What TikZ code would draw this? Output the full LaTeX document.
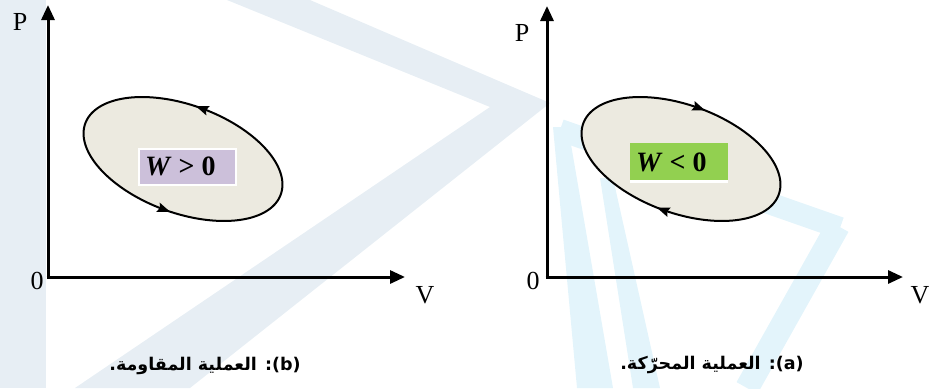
\documentclass[tikz,border=0pt]{standalone}
\usepackage{fontspec}
\setmainfont{Liberation Serif}
\newfontfamily\arabicfont[Script=Arabic]{DejaVu Sans}
\TeXXeTstate=1
\usetikzlibrary{arrows.meta,decorations.markings}
\definecolor{wmgray}{HTML}{E7EEF4}
\definecolor{wmcyan}{HTML}{E3F4FB}
\definecolor{cyclefill}{HTML}{ECEAE0}
\definecolor{lav}{HTML}{CCC0DA}
\definecolor{grn}{HTML}{92D050}
\tikzset{
  axisline/.style={line width=3pt,-{Triangle[length=15pt,width=13pt]}},
  axislabel/.style={font=\fontsize{26}{28}\selectfont,inner sep=0pt},
  wlabel/.style={font=\bfseries\fontsize{28}{30}\selectfont,inner sep=0pt,anchor=west},
  caption/.style={font=\arabicfont\bfseries\fontsize{17.5}{20}\selectfont,inner sep=0pt},
  cycleline/.style={line width=2pt,fill=cyclefill,draw=black},
  ccw/.style={postaction={decorate},decoration={markings,
    mark=at position 0.25 with {\fill[black] (-6,0) -- (7,-5) -- (5,0) -- (7,5) -- cycle;},
    mark=at position 0.75 with {\fill[black] (-6,0) -- (7,-5) -- (5,0) -- (7,5) -- cycle;}}},
  cw/.style={postaction={decorate},decoration={markings,
    mark=at position 0.25 with {\fill[black] (6,0) -- (-7,-5) -- (-5,0) -- (-7,5) -- cycle;},
    mark=at position 0.75 with {\fill[black] (6,0) -- (-7,-5) -- (-5,0) -- (-7,5) -- cycle;}}},
}
\newcommand\loopplot[2]{plot[domain=0:360,samples=181]
  ({#1+104*cos(\x)*cos(20)-54*sin(\x)*sin(20)},{#2+104*cos(\x)*sin(20)+54*sin(\x)*cos(20)}) -- cycle}
\begin{document}
\begin{tikzpicture}[x=1pt,y=-1pt]
\useasboundingbox (0,0) rectangle (931,388);
% watermark
\fill[wmgray] (0,0) rectangle (46,388);
\fill[wmgray] (227,0) -- (310,0) -- (550,103) -- (190,388) -- (75,388) -- (490,107) -- cycle;
\fill[wmcyan] (553,127) -- (568,127) -- (613,388) -- (577,388) -- cycle;
\fill[wmcyan] (600,178) -- (613,178) -- (660,388) -- (633,388) -- cycle;
\draw[wmcyan,line width=22pt] (560,130) -- (840,228);
\draw[wmcyan,line width=24pt] (838,226) -- (747,388);
% left panel
\coordinate (O1) at (48,277);
\coordinate (T1) at (48,5);
\coordinate (R1) at (405,277);
\draw[axisline] ([yshift=1.5pt]O1) -- (T1);
\draw[axisline] ([xshift=-1.5pt]O1) -- (R1);
\node[axislabel] (P1) at (20,22) {P};
\node[axislabel] (Z1) at (37,281) {0};
\node[axislabel] (V1) at (425,295) {V};
\draw[cycleline,ccw] \loopplot{183}{159};
\node[draw=white,line width=2pt,fill=lav,minimum width=97pt,minimum height=36pt,inner sep=0pt] (B1) at (187.5,167) {};
\node[wlabel] (W1) at (145,166) {\textit{W} > 0};
\node[caption] (C1) at (205,366) {\beginR\beginL(b)\endL: العملية المقاومة.\endR};
% right panel
\coordinate (O2) at (547,277);
\coordinate (T2) at (547,6);
\coordinate (R2) at (903,277);
\draw[axisline] ([yshift=1.5pt]O2) -- (T2);
\draw[axisline] ([xshift=-1.5pt]O2) -- (R2);
\node[axislabel] (P2) at (522,33) {P};
\node[axislabel] (Z2) at (533,281) {0};
\node[axislabel] (V2) at (920,295) {V};
\draw[cycleline,cw] \loopplot{681}{159};
\fill[white] (630,180) rectangle (728,183);
\node[fill=grn,minimum width=98pt,minimum height=37pt,inner sep=0pt] (B2) at (679,161.5) {};
\node[wlabel] (W2) at (636,162) {\textit{W} < 0};
\node[caption] (C2) at (712,365) {\beginR\beginL(a)\endL: العملية المحرّكة.\endR};
\end{tikzpicture}
\end{document}
